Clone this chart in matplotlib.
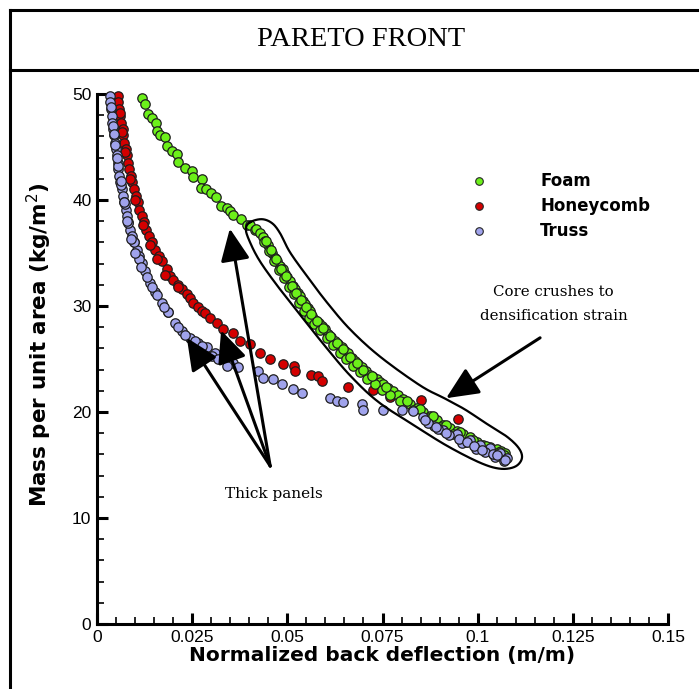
import numpy as np
import matplotlib
matplotlib.use("Agg")
import matplotlib.pyplot as plt
from matplotlib.lines import Line2D

# ---------------- data ----------------
foam_x = [0.0117, 0.0126, 0.0135, 0.0144, 0.0155, 0.0158, 0.0166, 0.0179, 0.0183, 0.0196,
          0.0209, 0.0214, 0.0231, 0.0249, 0.0253, 0.0275, 0.0272, 0.0286, 0.0299, 0.0312,
          0.0325, 0.0341, 0.0349, 0.0358, 0.0378, 0.0393, 0.0402, 0.0415, 0.0418, 0.0428,
          0.0435, 0.0441, 0.0448, 0.0454, 0.0461, 0.0468, 0.0474, 0.0481, 0.0488, 0.0494,
          0.0500, 0.0507, 0.0514, 0.0520, 0.0527, 0.0533, 0.0540, 0.0546, 0.0553, 0.0560,
          0.0566, 0.0573, 0.0582, 0.0590, 0.0599, 0.0608, 0.0616, 0.0625, 0.0634, 0.0643,
          0.0651, 0.0660, 0.0669, 0.0678, 0.0686, 0.0695, 0.0706, 0.0717, 0.0726, 0.0735,
          0.0743, 0.0752, 0.0765, 0.0778, 0.0791, 0.0805, 0.0822, 0.0840, 0.0857, 0.0875,
          0.0892, 0.0910, 0.0928, 0.0945, 0.0962, 0.0980, 0.0998, 0.1015, 0.1032, 0.1050,
          0.1062, 0.1072,
          0.0440, 0.0452, 0.0465, 0.0478, 0.0491, 0.0505, 0.0517, 0.0530, 0.0544, 0.0557,
          0.0570, 0.0586, 0.0603, 0.0620, 0.0638, 0.0655, 0.0673, 0.0690, 0.0710, 0.0730,
          0.0748, 0.0770, 0.0797, 0.0830, 0.0866, 0.0900, 0.0935, 0.0970, 0.1005, 0.1040,
          0.1068,
          0.0444, 0.0457, 0.0471, 0.0484, 0.0497, 0.0511, 0.0524, 0.0537, 0.0550, 0.0563,
          0.0578, 0.0595, 0.0612, 0.0630, 0.0647, 0.0664, 0.0682, 0.0700, 0.0722, 0.0760,
          0.0815, 0.0848, 0.0883, 0.0918, 0.0953, 0.0988, 0.1022, 0.1056, 0.1070]
foam_y = [49.6, 49.1, 48.1, 47.7, 47.3, 46.5, 46.1, 45.9, 45.1, 44.6,
          44.3, 43.6, 43.0, 42.7, 42.2, 42.0, 41.1, 41.0, 40.7, 40.3,
          39.4, 39.2, 39.0, 38.6, 38.2, 37.6, 37.6, 37.2, 37.3, 36.9,
          36.5, 36.1, 35.8, 35.3, 35.0, 34.5, 34.2, 33.8, 33.5, 33.0,
          32.7, 32.4, 31.9, 31.6, 31.2, 30.9, 30.5, 30.2, 29.8, 29.5,
          29.1, 28.7, 28.4, 28.1, 27.8, 27.4, 27.1, 26.7, 26.4, 26.1,
          25.8, 25.6, 25.1, 24.8, 24.5, 24.2, 23.9, 23.5, 23.3, 23.1,
          22.8, 22.6, 22.3, 22.0, 21.6, 21.2, 20.8, 20.4, 20.0, 19.6,
          19.2, 18.8, 18.5, 18.2, 17.9, 17.6, 17.2, 16.9, 16.7, 16.5,
          16.3, 16.1,
          36.0, 35.2, 34.2, 33.4, 32.6, 31.8, 31.1, 30.3, 29.5, 28.9,
          28.3, 27.7, 27.0, 26.3, 25.6, 25.0, 24.3, 23.8, 23.1, 22.6,
          22.1, 21.6, 21.0, 20.2, 19.4, 18.6, 17.9, 17.2, 16.6, 16.0,
          15.6,
          36.1, 35.3, 34.4, 33.5, 32.8, 31.9, 31.2, 30.6, 29.9, 29.2,
          28.6, 27.9, 27.2, 26.5, 25.9, 25.2, 24.6, 24.0, 23.4, 22.4,
          21.0, 20.3, 19.6, 18.8, 18.1, 17.4, 16.8, 16.2, 15.9]

honey_x = [0.0054, 0.0056, 0.0058, 0.0060, 0.0063, 0.0067, 0.0069, 0.0072, 0.0075, 0.0078,
           0.0081, 0.0084, 0.0089, 0.0093, 0.0098, 0.0102, 0.0107, 0.0111, 0.0117, 0.0124,
           0.0130, 0.0137, 0.0145, 0.0152, 0.0163, 0.0170, 0.0183, 0.0192, 0.0200, 0.0214,
           0.0222, 0.0236, 0.0245, 0.0253, 0.0265, 0.0275, 0.0284, 0.0297, 0.0314, 0.0332,
           0.0358, 0.0376, 0.0402, 0.0428, 0.0454, 0.0489, 0.0518, 0.0520, 0.0562, 0.0581,
           0.0590, 0.0660, 0.0726, 0.0770, 0.0850, 0.0948,
           0.0060, 0.0066, 0.0074, 0.0086, 0.0100, 0.0120, 0.0140, 0.0158, 0.0178, 0.0212]
honey_y = [49.8, 49.2, 48.6, 47.9, 47.3, 46.7, 46.1, 45.4, 44.8, 44.2,
           43.5, 42.9, 42.3, 41.7, 41.0, 40.4, 39.8, 39.1, 38.5, 37.9,
           37.2, 36.6, 36.0, 35.3, 34.7, 34.2, 33.5, 32.8, 32.5, 32.0,
           31.6, 31.1, 30.8, 30.3, 29.9, 29.5, 29.3, 28.9, 28.4, 27.8,
           27.5, 26.7, 26.4, 25.6, 25.0, 24.5, 24.3, 23.9, 23.5, 23.4,
           22.9, 22.4, 22.1, 21.4, 21.1, 19.3,
           48.2, 46.4, 44.5, 42.0, 40.0, 37.6, 35.8, 34.4, 32.9, 31.8]

truss_x = [0.0034, 0.0034, 0.0037, 0.0039, 0.0040, 0.0043, 0.0045, 0.0047, 0.0049, 0.0052,
           0.0054, 0.0056, 0.0058, 0.0060, 0.0065, 0.0069, 0.0072, 0.0075, 0.0078, 0.0082,
           0.0087, 0.0091, 0.0098, 0.0104, 0.0110, 0.0117, 0.0126, 0.0139, 0.0152, 0.0170,
           0.0187, 0.0205, 0.0222, 0.0244, 0.0266, 0.0288, 0.0310, 0.0332, 0.0358, 0.0371,
           0.0424, 0.0437, 0.0463, 0.0485, 0.0516, 0.0538, 0.0612, 0.0630, 0.0647, 0.0695,
           0.0698, 0.0750, 0.0800, 0.0831, 0.0857, 0.0884, 0.0910, 0.0945, 0.0980, 0.1006,
           0.1032, 0.1059, 0.1076,
           0.0037, 0.0041, 0.0047, 0.0056, 0.0063, 0.0073, 0.0081, 0.0098, 0.0111, 0.0132,
           0.0157, 0.0187, 0.0213, 0.0231, 0.0257, 0.0275, 0.0301, 0.0319, 0.0341,
           0.0870, 0.0895, 0.0925, 0.0960, 0.0995, 0.1020, 0.1045, 0.1068,
           0.0862, 0.0890, 0.0918, 0.0950, 0.0972, 0.0990, 0.1012, 0.1040, 0.1052, 0.1072,
           0.0045, 0.0052, 0.0062, 0.0070, 0.0079, 0.0089, 0.0101, 0.0115, 0.0145, 0.0175]
truss_y = [49.8, 49.2, 48.6, 47.9, 47.3, 46.7, 46.1, 45.4, 44.8, 44.2,
           43.5, 42.9, 42.3, 41.7, 41.0, 40.4, 39.8, 39.1, 38.5, 37.9,
           37.2, 36.6, 36.0, 35.3, 34.7, 34.1, 33.3, 32.2, 31.3, 30.3,
           29.4, 28.4, 27.6, 27.0, 26.5, 26.1, 25.6, 25.1, 24.6, 24.2,
           23.9, 23.2, 23.1, 22.6, 22.2, 21.8, 21.3, 21.0, 20.9, 20.8,
           20.2, 20.2, 20.2, 20.1, 19.5, 18.7, 18.3, 17.9, 17.4, 16.9,
           16.6, 16.1, 15.7,
           48.8, 47.0, 45.2, 43.2, 41.4, 39.6, 37.8, 36.0, 34.4, 32.7,
           31.0, 29.4, 28.0, 27.3, 26.7, 26.2, 25.3, 25.0, 24.3,
           19.0, 18.4, 17.8, 17.1, 16.5, 16.2, 15.8, 15.4,
           19.2, 18.6, 18.0, 17.5, 17.2, 16.8, 16.4, 16.0, 15.9, 15.5,
           46.2, 44.0, 41.8, 39.8, 38.0, 36.3, 35.0, 33.7, 31.8, 29.9]

series = [
    ("Foam", foam_x, foam_y, "#6cf01a"),
    ("Honeycomb", honey_x, honey_y, "#d40000"),
    ("Truss", truss_x, truss_y, "#a0a3ec"),
]

# annotation outline (sausage around the crushing region)
outline_x = [0.0402, 0.0433, 0.0460, 0.0481, 0.0507, 0.0552, 0.0604, 0.0665, 0.0743, 0.0849,
             0.0914, 0.0967, 0.1019, 0.1077, 0.1109, 0.1116, 0.1098, 0.1059, 0.1006, 0.0919,
             0.0830, 0.0738, 0.0665, 0.0602, 0.0539, 0.0475, 0.0428, 0.0402, 0.0391]
outline_y = [37.90, 38.19, 37.81, 36.86, 35.07, 32.80, 30.34, 27.79, 25.24, 22.50,
             21.27, 20.23, 19.00, 17.67, 16.54, 15.60, 14.84, 14.65, 15.22, 16.82,
             18.81, 20.98, 23.44, 26.09, 28.92, 31.85, 34.22, 36.01, 37.24]


def catmull_closed(xs, ys, n=12):
    p = np.column_stack([xs, ys])
    m = len(p)
    out = []
    for i in range(m):
        p0, p1, p2, p3 = p[(i - 1) % m], p[i], p[(i + 1) % m], p[(i + 2) % m]
        for t in np.linspace(0, 1, n, endpoint=False):
            t2, t3 = t * t, t * t * t
            out.append(0.5 * ((2 * p1) + (-p0 + p2) * t + (2 * p0 - 5 * p1 + 4 * p2 - p3) * t2
                              + (-p0 + 3 * p1 - 3 * p2 + p3) * t3))
    out.append(out[0])
    out = np.array(out)
    return out[:, 0], out[:, 1]


# ---------------- figure ----------------
W, H = 699, 689
fig = plt.figure(figsize=(W / 100, H / 100), dpi=100)


def fx(px):
    return px / W


def fy(py):
    return 1 - py / H


fig.add_artist(Line2D([fx(10), 1], [fy(10), fy(10)], color="black", lw=2.2))
fig.add_artist(Line2D([fx(10), 1], [fy(70), fy(70)], color="black", lw=2.2))
fig.add_artist(Line2D([fx(10), fx(10)], [fy(10), 0], color="black", lw=2.2))
fig.text(fx(361), fy(40), "PARETO FRONT", ha="center", va="center",
         family="Liberation Serif", fontsize=20.5)

ax = fig.add_axes([fx(97), fy(624), (668 - 97) / W, (624 - 94) / H])
ax.set_xlim(0, 0.15)
ax.set_ylim(0, 50)
for s in ["top", "right"]:
    ax.spines[s].set_visible(False)
for s in ["left", "bottom"]:
    ax.spines[s].set_linewidth(2.2)

ax.set_xticks([0, 0.025, 0.05, 0.075, 0.1, 0.125, 0.15])
ax.set_xticklabels(["0", "0.025", "0.05", "0.075", "0.1", "0.125", "0.15"])
ax.set_yticks([0, 10, 20, 30, 40, 50])
ax.set_yticklabels(["0", "10", "20", "30", "40", "50"])
ax.set_xticks(np.arange(0, 0.1501, 0.005), minor=True)
ax.set_yticks(np.arange(0, 50.1, 2), minor=True)
ax.tick_params(which="major", direction="in", length=8, width=2.2,
               labelsize=12.5, pad=4)
ax.tick_params(which="minor", direction="in", length=5, width=1.2)
for lab in ax.get_xticklabels() + ax.get_yticklabels():
    lab.set_family("Liberation Sans")

ax.set_xlabel("Normalized back deflection (m/m)", family="DejaVu Sans",
              fontweight="bold", fontsize=14.5, labelpad=1)
ax.set_ylabel("Mass per unit area (kg/m$^2$)", family="DejaVu Sans",
              fontweight="bold", fontsize=15.5)
ax.yaxis.set_label_coords(-0.076, 0.527)

order = [1, 0, 2]
for k in order:
    name, xs, ys, col = series[k]
    ax.scatter(xs, ys, s=46, color=col, edgecolors="#1e1e1e", linewidths=0.9,
               zorder=3, clip_on=False, label=name)

# legend (manual placement)
leg_y = [0.836, 0.789, 0.7415]
for (name, xs, ys, col), yy in zip(series, leg_y):
    ax.scatter([0.669], [yy], s=30, color=col, edgecolors="#262626", linewidths=0.8,
               transform=ax.transAxes, clip_on=False, zorder=4)
    ax.text(0.776, yy, name, transform=ax.transAxes, va="center", ha="left",
            family="DejaVu Sans", fontweight="bold", fontsize=12)

# outline
ox, oy = catmull_closed(outline_x, outline_y)
ax.plot(ox, oy, color="black", lw=1.6, zorder=5)

# arrows
arrow_kw = dict(arrowstyle="-|>,head_length=1.1,head_width=0.5", color="black",
                lw=2.2, shrinkA=0, shrinkB=0, mutation_scale=18)
start = (0.0455, 14.9)
for tip in [(0.0236, 27.0), (0.0326, 27.7), (0.0349, 37.3)]:
    ax.annotate("", xy=tip, xytext=start, arrowprops=arrow_kw, zorder=6)
ax.text(0.0465, 12.3, "Thick panels", ha="center", va="center",
        family="DejaVu Serif", fontsize=11)

ax.annotate("", xy=(0.0917, 21.3), xytext=(0.1164, 27.0), arrowprops=arrow_kw, zorder=6)
ax.text(0.1200, 30.15, "Core crushes to\ndensification strain", ha="center", va="center",
        family="DejaVu Serif", fontsize=10.8, linespacing=1.9)

fig.savefig("out.png", dpi=100)
